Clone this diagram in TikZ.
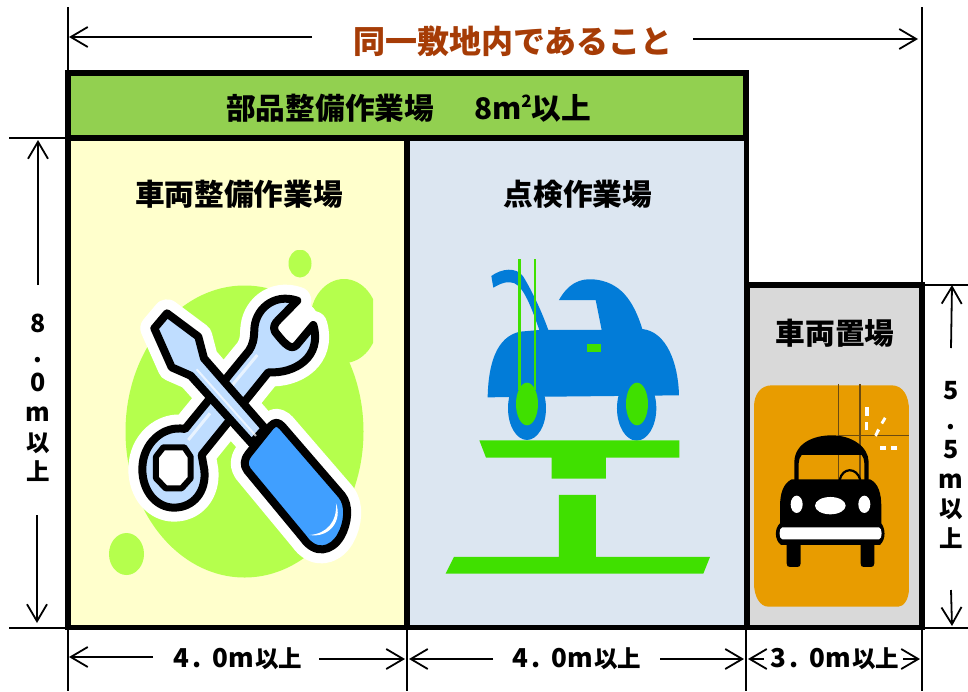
\documentclass[tikz,border=0pt]{standalone}
\usepackage{fontspec}
\setmainfont{Noto Sans CJK JP}
\usetikzlibrary{arrows.meta}
\definecolor{bandgreen}{HTML}{92D050}
\definecolor{paleyellow}{HTML}{FFFFCC}
\definecolor{paleblue}{HTML}{DCE6F1}
\definecolor{palegray}{HTML}{D9D9D9}
\definecolor{titlebrown}{HTML}{A63C06}
\definecolor{blob}{HTML}{B5FF4D}
\definecolor{toollight}{HTML}{BFDDFF}
\definecolor{toolblue}{HTML}{409FFF}
\definecolor{carblue}{HTML}{027CD8}
\definecolor{liftgreen}{HTML}{40E000}
\definecolor{orangebg}{HTML}{E89C00}
\definecolor{gridbrown}{HTML}{6B4A10}
\newcommand{\dimtext}[1]{{\fontsize{26}{28}\selectfont #1\kern3pt.\kern11pt 0m}\kern1pt{\fontsize{23.5}{28}\selectfont 以上}}
\newcommand{\cjksz}[1]{{\fontsize{23.5}{29.6}\selectfont #1}}
\tikzset{
  areabox/.style={draw=black,line width=5.5pt,outer sep=0pt,inner sep=0pt,anchor=north west},
  extline/.style={draw=black,line width=2pt},
  dimline/.style={draw=black,line width=1.8pt,-{Straight Barb[length=17pt,width=20pt,line width=1.8pt]}},
  arealabel/.style={font=\fontsize{29.7}{32}\selectfont\bfseries,text=black,inner sep=0pt},
  dimlabel/.style={font=\bfseries,text=black,inner sep=0pt},
  stacklabel/.style={font=\fontsize{25}{29.6}\selectfont\bfseries,text=black,inner sep=0pt,align=center},
  zoomA/.style={shift={(100,230)},x=0.3333pt,y=-0.3333pt},
  zoomB/.style={shift={(430,240)},x=0.3333pt,y=-0.3333pt},
  zoomC/.style={shift={(745,280)},x=0.3333pt,y=-0.3333pt},
  halo/.style={draw=white,fill=white,line width=28pt,line join=round},
  inked/.style={draw=black,line width=8pt,line join=round},
}
\def\wrenchP{(592,212) .. controls (520,188) and (464,240) .. (463,300) .. controls (462,330) and (458,345) .. (447,362) -- (255,597) .. controls (190,585) and (127,640) .. (127,717) .. controls (127,785) and (170,833) .. (222,833) .. controls (280,833) and (320,785) .. (313,720) -- (305,675) -- (505,427) .. controls (585,432) and (668,380) .. (640,285) -- (590,345) .. controls (575,360) and (560,350) .. (525,305) .. controls (518,290) and (525,280) .. (535,270) -- cycle}
\def\driverP{(201,250) -- (163,295) -- (215,412) -- (272,437) -- (455,640) -- (495,595) -- (312,385) -- (295,320) -- cycle}
\def\handleP{(512,588) .. controls (525,575) and (535,575) .. (548,590) -- (725,795) .. controls (750,825) and (745,880) .. (722,920) .. controls (695,965) and (645,975) .. (610,925) -- (442,722) .. controls (430,705) and (432,690) .. (445,672) -- cycle}
\def\octP{(190,652) -- (253,652) -- (272,680) -- (272,745) -- (245,775) -- (197,775) -- (168,745) -- (168,680) -- cycle}
\begin{document}
\begin{tikzpicture}[x=1pt,y=-1pt]
\useasboundingbox (0,0) rectangle (968,691);
\fill[white] (0,0) rectangle (968,691);
% coordinates for extension and dimension lines
\coordinate (eLtop) at (68,7);
\coordinate (eLband) at (68,73);
\coordinate (eRtop) at (922,7);
\coordinate (eRbox) at (922,285);
\coordinate (hA) at (9,138);
\coordinate (hAe) at (66,138);
\coordinate (hB) at (9,627.5);
\coordinate (hBe) at (66,627.5);
\coordinate (hC) at (925,285);
\coordinate (hCe) at (968,285);
\coordinate (hD) at (925,627.5);
\coordinate (hDe) at (968,627.5);
\foreach \n/\x in {a/68,b/407,c/746,d/922}{
  \coordinate (\n0) at (\x,627.5);
  \coordinate (\n1) at (\x,691);
}
% areas
\node[areabox,fill=bandgreen,minimum width=678pt,minimum height=65pt] (band) at (68,73) {};
\node[areabox,fill=paleyellow,minimum width=339pt,minimum height=489.5pt] (yard) at (68,138) {};
\node[areabox,fill=paleblue,minimum width=339.5pt,minimum height=489.5pt] (check) at (407,138) {};
\node[areabox,fill=palegray,minimum width=175pt,minimum height=342.5pt] (park) at (747,285) {};
% extension lines
\draw[extline] (eLtop) -- (eLband);
\draw[extline] (eRtop) -- (eRbox);
\draw[extline] (hA) -- (hAe);
\draw[extline] (hB) -- (hBe);
\draw[extline] (hC) -- (hCe);
\draw[extline] (hD) -- (hDe);
\foreach \n in {a,b,c,d}{\draw[extline] (\n0) -- (\n1);}
% labels
\node[font=\fontsize{32}{34}\selectfont\bfseries,text=titlebrown,inner sep=0pt] (title) at (513,41) {同一敷地内であること};
\node[arealabel,anchor=west] (bandtext) at (226,108) {部品整備作業場\hspace{40pt}8m\raisebox{12pt}{\fontsize{17}{17}\selectfont 2}以上};
\node[arealabel] (yardtext) at (239,194) {車両整備作業場};
\node[arealabel] (checktext) at (578,194) {点検作業場};
\node[arealabel] (parktext) at (835,333) {車両置場};
\node[stacklabel] (leftdim) at (38,398) {8\\.\\0\\m\\\cjksz{以}\\\cjksz{上}};
\node[stacklabel] (rightdim) at (951,465) {5\\.\\5\\m\\\cjksz{以}\\\cjksz{上}};
\node[dimlabel] (d1) at (238,659) {\dimtext{4}};
\node[dimlabel] (d2) at (577,659) {\dimtext{4}};
\node[dimlabel] (d3) at (835,659) {\dimtext{3}};
% dimension arrows
\coordinate (t1) at (312,37); \coordinate (t1e) at (69,37);
\coordinate (t2) at (693,39); \coordinate (t2e) at (918,39);
\draw[dimline] (t1) -- (t1e);
\draw[dimline] (t2) -- (t2e);
\coordinate (l1) at (38,285); \coordinate (l1e) at (38,140);
\coordinate (l2) at (37,515); \coordinate (l2e) at (37,623);
\draw[dimline] (l1) -- (l1e);
\draw[dimline] (l2) -- (l2e);
\coordinate (r1) at (951,348); \coordinate (r1e) at (952,285);
\coordinate (r2) at (951,590); \coordinate (r2e) at (952,626);
\draw[dimline] (r1) -- (r1e);
\draw[dimline] (r2) -- (r2e);
\coordinate (b1) at (153,657); \coordinate (b1e) at (69,657);
\coordinate (b2) at (319,659); \coordinate (b2e) at (405,659);
\coordinate (b3) at (493,659); \coordinate (b3e) at (409,659);
\coordinate (b4) at (660,659); \coordinate (b4e) at (744,659);
\coordinate (b5) at (764,659); \coordinate (b5e) at (748,659);
\coordinate (b6) at (903,659); \coordinate (b6e) at (920,659);
\foreach \n in {1,...,6}{\draw[dimline] (b\n) -- (b\n e);}
% tools picture
\begin{scope}
\clip (100,250) rectangle (373,600);
\fill[blob] (244.5,431.5) ellipse [x radius=119,y radius=146];
\fill[blob] (344,321) ellipse [x radius=34,y radius=42];
\fill[blob] (300,263.5) ellipse [x radius=11.5,y radius=14];
\fill[blob] (126.5,554) ellipse [x radius=17.5,y radius=21];
\end{scope}
\begin{scope}[zoomA]
\path[halo] \wrenchP;
\fill[white] (545,315) circle [radius=125];
\path[halo] \driverP;
\path[halo] \handleP;
\path[inked,fill=toollight] \wrenchP;
\path[draw=black,line width=6pt,line join=round,fill=white] \octP;
\draw[white,line width=3pt,opacity=.65] (472,375) -- (395,468);
\draw[white,line width=3pt,opacity=.65] (330,550) -- (265,630);
\path[inked,fill=toollight] \driverP;
\draw[white,line width=2pt,opacity=.7] (290,418) -- (468,618);
\path[inked,fill=toolblue] \handleP;
\fill[white] (708,820) .. controls (728,870) and (690,925) .. (628,915) .. controls (680,912) and (712,875) .. (708,820) -- cycle;
\end{scope}
% car on lift
\begin{scope}[zoomB]
\fill[carblue] (291,505) ellipse [x radius=57,y radius=95];
\fill[carblue] (620,505) ellipse [x radius=59,y radius=97];
\fill[carblue] (173,472) .. controls (175,370) and (200,290) .. (270,275) -- (328,270) .. controls (300,190) and (275,125) .. (240,127) .. controls (220,125) and (205,135) .. (190,143) -- (184,108) .. controls (215,85) and (260,80) .. (280,110) .. controls (310,160) and (335,215) .. (355,270) -- (515,270) -- (497,180) -- (387,180) .. controls (415,130) and (450,115) .. (490,118) .. controls (570,125) and (610,180) .. (637,267) .. controls (710,275) and (745,370) .. (747,466) -- cycle;
\fill[liftgreen] (291,492) ellipse [x radius=33,y radius=64];
\fill[liftgreen] (621,492) ellipse [x radius=33,y radius=64];
\fill[liftgreen] (264,57) rectangle (273,450);
\fill[liftgreen] (312,57) rectangle (318,450);
\fill[liftgreen] (471,312) rectangle (513,336);
\fill[liftgreen] (148,601) -- (748,601) -- (748,653) -- (528,653) -- (528,716) -- (365,716) -- (365,653) -- (168,653) -- cycle;
\fill[liftgreen] (387,765) -- (498,765) -- (498,951) -- (840,951) -- (820,1001) -- (47,1001) -- (72,951) -- (387,951) -- cycle;
\end{scope}
% parked car
\begin{scope}[zoomC]
\fill[orangebg] (80,316) -- (440,316) .. controls (475,316) and (492,350) .. (492,390) -- (492,925) .. controls (492,960) and (475,980) .. (460,980) -- (70,980) .. controls (45,980) and (27,950) .. (27,910) -- (27,380) .. controls (27,340) and (50,316) .. (80,316) -- cycle;
\draw[gridbrown,line width=1.2pt] (281,312) -- (281,600);
\draw[gridbrown,line width=1.2pt] (345,312) -- (345,600);
\draw[gridbrown,line width=1.2pt] (280,466) -- (492,466);
\fill[white] (360,381) rectangle (372,407);
\fill[white] (360,427) rectangle (370,450);
\fill[white] (417,411) -- (424,416) -- (414,433) -- (407,428) -- cycle;
\fill[white] (397,446) -- (405,451) -- (395,470) -- (388,465) -- cycle;
\fill[white] (405,497) rectangle (422,509);
\fill[white] (438,497) rectangle (455,510);
% roof
\fill[black] (148,610) -- (148,545) .. controls (150,490) and (205,466) .. (260,466) .. controls (320,466) and (370,500) .. (371,545) -- (371,610) -- (358,610) -- (358,550) .. controls (358,540) and (355,530) .. (350,525) -- (170,525) .. controls (165,530) and (161,540) .. (161,550) -- (161,610) -- cycle;
% loop
\draw[black,line width=2.2pt] (284,600) .. controls (292,562) and (335,560) .. (346,600);
% body
\fill[black] (140,598) -- (375,598) .. controls (400,610) and (409,640) .. (409,680) -- (409,730) .. controls (420,745) and (425,775) .. (405,795) -- (388,795) -- (388,850) .. controls (388,858) and (384,861) .. (378,861) -- (356,861) .. controls (350,861) and (347,858) .. (347,850) -- (347,795) -- (167,795) -- (167,850) .. controls (167,858) and (163,861) .. (157,861) -- (135,861) .. controls (128,861) and (125,858) .. (125,850) -- (125,795) -- (108,795) .. controls (88,780) and (88,745) .. (105,730) -- (105,680) .. controls (105,640) and (115,610) .. (140,598) -- cycle;
\fill[white] (112,742) -- (402,742) .. controls (412,742) and (413,778) .. (402,778) -- (112,778) .. controls (101,778) and (101,742) .. (112,742) -- cycle;
\fill[white] (155,673) ellipse [x radius=18,y radius=26];
\fill[white] (358,673) ellipse [x radius=18,y radius=26];
\fill[white] (256,677) ellipse [x radius=46,y radius=26];
\end{scope}
\end{tikzpicture}
\end{document}
